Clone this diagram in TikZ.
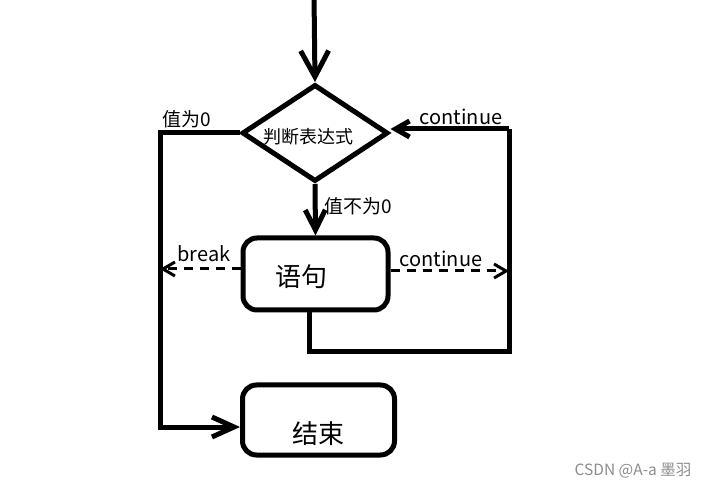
\documentclass[tikz,border=0pt]{standalone}
\usepackage{fontspec}
\setmainfont{Noto Sans CJK SC}
\usetikzlibrary{shapes.geometric,arrows.meta}
\begin{document}
\begin{tikzpicture}[x=1pt,y=-1pt,
  main/.style={line width=5pt,line join=miter},
  dsh/.style={line width=3pt,dash pattern=on 9pt off 7pt},
  lbl/.style={font=\fontsize{19}{19}\selectfont,inner sep=0pt},
  big/.style={font=\fontsize{26}{26}\selectfont,inner sep=0pt},
  box/.style={draw,line width=5pt,rounded corners=14pt,inner sep=0pt}]
\useasboundingbox (0,0) rectangle (705,489);
% nodes
\node[draw,diamond,aspect=1.5,line width=5pt,inner sep=0pt,minimum width=146pt,minimum height=97pt] (cond) at (315,133) {};
\node[inner sep=0pt,font=\fontsize{18}{18}\selectfont] (condt) at (308,137) {判断表达式};
\node[box,minimum width=145pt,minimum height=72pt] (stmt) at (315.5,274) {};
\node[big] (stmtt) at (301,277) {语句};
\node[box,minimum width=152pt,minimum height=70pt] (endb) at (318.5,420) {};
\node[big] (endt) at (318,434) {结束};
% coordinates
\coordinate (top) at (314,-5);
\coordinate (lt) at (160,133);
\coordinate (lb) at (160,427);
\coordinate (bk) at (160,269);
\coordinate (ck) at (509,271);
\coordinate (lp) at (309,352);
\coordinate (rb) at (509,352);
\coordinate (rt) at (509,129);
% connectors
\draw[main,-{Straight Barb[length=26pt,width=28pt,line width=5pt]}] (top) -- (cond.north);
\draw[main,-{Straight Barb[length=20pt,width=20pt,line width=5pt]}] (cond.south) -- (stmt.north);
\draw[main,-{Straight Barb[length=22pt,width=20pt,line width=5pt]}] (cond.west) -- (lt) -- (lb) -- (lb -| endb.west);
\draw[main] (stmt.south -| lp) -- (lp) -- (rb) -- (rt);
\draw[main,-{Straight Barb[length=14pt,width=16pt,line width=5pt]}] (rt) -- (rt -| cond.east);
\draw[dsh,-{Straight Barb[length=12pt,width=14pt,line width=3pt]}] (bk -| stmt.west) -- (bk);
\draw[dsh,-{Straight Barb[length=12pt,width=14pt,line width=3pt]}] (ck -| stmt.east) -- (ck);
% labels
\node[lbl] (l0) at (187,119) {值为0};
\node[lbl,font=\fontsize{20}{20}\selectfont] (lc1) at (461,117) {continue};
\node[lbl] (ln0) at (358,206) {值不为0};
\node[lbl,font=\fontsize{20}{20}\selectfont] (lbr) at (204,254) {break};
\node[lbl,font=\fontsize{20}{20}\selectfont] (lc2) at (441,259) {continue};
\node[font=\fontsize{15.5}{15.5}\selectfont,text=black!45,inner sep=0pt] (wm) at (633,471) {CSDN @A-a 墨羽};
\end{tikzpicture}
\end{document}
